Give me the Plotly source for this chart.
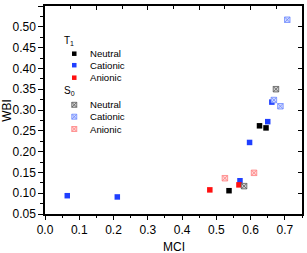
import plotly.graph_objects as go

# ---- data ----
t1_neutral_mci = [0.537, 0.626, 0.645]
t1_neutral_wbi = [0.106, 0.262, 0.257]
t1_cationic_mci = [0.065, 0.211, 0.569, 0.597, 0.650, 0.662]
t1_cationic_wbi = [0.094, 0.091, 0.130, 0.222, 0.272, 0.319]
t1_anionic_mci = [0.481, 0.566]
t1_anionic_wbi = [0.108, 0.120]
s0_neutral_mci = [0.581, 0.674]
s0_neutral_wbi = [0.117, 0.350]
s0_cationic_mci = [0.707, 0.668, 0.687]
s0_cationic_wbi = [0.517, 0.324, 0.309]
s0_anionic_mci = [0.525, 0.610]
s0_anionic_wbi = [0.136, 0.149]

legend_labels = ["Neutral", "Cationic", "Anionic"]
FONT = "Arial, Liberation Sans, sans-serif"

solid_styles = [dict(symbol="square", size=5.5, color="#000000", line=dict(width=0)),
                dict(symbol="square", size=5.5, color="#1f3fff", line=dict(width=0)),
                dict(symbol="square", size=5.5, color="#ff1010", line=dict(width=0))]
cross_styles = [dict(symbol="square-x", size=5.5, color="#d0d0d0", line=dict(width=0.8, color="#5a5a5a")),
                dict(symbol="square-x", size=5.5, color="#d0d9ff", line=dict(width=0.8, color="#6f8aff")),
                dict(symbol="square-x", size=5.5, color="#ffd6d6", line=dict(width=0.8, color="#ff8080"))]

fig = go.Figure()
series = [
    (t1_neutral_mci, t1_neutral_wbi, solid_styles[0]),
    (t1_cationic_mci, t1_cationic_wbi, solid_styles[1]),
    (t1_anionic_mci, t1_anionic_wbi, solid_styles[2]),
    (s0_neutral_mci, s0_neutral_wbi, cross_styles[0]),
    (s0_cationic_mci, s0_cationic_wbi, cross_styles[1]),
    (s0_anionic_mci, s0_anionic_wbi, cross_styles[2]),
]
for xs, ys, st in series:
    fig.add_trace(go.Scatter(x=xs, y=ys, mode="markers", marker=st, showlegend=False,
                             hoverinfo="skip"))

# helper trace so overlay axes get drawn
fig.add_trace(go.Scatter(x=[None], y=[None], xaxis="x2", yaxis="y2", showlegend=False))

# ---- manual legend (paper-like axes x3/y3) ----
W, H = 307, 253
L, R, T, B = 45, 3, 6, 39
pw, ph = W - L - R, H - T - B

def px(x):
    return (x - L) / pw

def py(y):
    return (H - B - y) / ph

marker_x = px(74.5)
text_x = px(88)
head_x = px(62.5)
row_y1 = [53.7, 65.2, 77.7]
row_y0 = [104.8, 116.7, 129.0]

for i in range(3):
    fig.add_trace(go.Scatter(x=[marker_x], y=[py(row_y1[i])], mode="markers",
                             marker=dict(solid_styles[i], size=4.5), xaxis="x3", yaxis="y3",
                             showlegend=False, hoverinfo="skip"))
    fig.add_trace(go.Scatter(x=[marker_x], y=[py(row_y0[i])], mode="markers",
                             marker=dict(cross_styles[i], size=5), xaxis="x3", yaxis="y3",
                             showlegend=False, hoverinfo="skip"))

annotations = []
for i in range(3):
    for yy in (row_y1[i], row_y0[i]):
        annotations.append(dict(x=text_x, y=py(yy), xref="paper", yref="paper",
                                text=legend_labels[i], showarrow=False, xanchor="left",
                                yanchor="middle", font=dict(family=FONT, size=9.6, color="#000")))
annotations.append(dict(x=head_x, y=py(41), xref="paper", yref="paper",
                        text="T<sub>1</sub>", showarrow=False, xanchor="left", yanchor="middle",
                        font=dict(family=FONT, size=10, color="#000")))
annotations.append(dict(x=head_x, y=py(91), xref="paper", yref="paper",
                        text="S<sub>0</sub>", showarrow=False, xanchor="left", yanchor="middle",
                        font=dict(family=FONT, size=10, color="#000")))
# axis titles
annotations.append(dict(x=px(6.5), y=0.5, xref="paper", yref="paper", text="WBI",
                        showarrow=False, textangle=-90, xanchor="center", yanchor="middle",
                        font=dict(family=FONT, size=12, color="#000")))
annotations.append(dict(x=px(174.5), y=py(246.5), xref="paper", yref="paper", text="MCI",
                        showarrow=False, xanchor="center", yanchor="middle",
                        font=dict(family=FONT, size=12, color="#000")))

axis_font = dict(family=FONT, size=12, color="#000")
fig.update_layout(
    width=W, height=H,
    margin=dict(l=L, r=R, t=T, b=B),
    paper_bgcolor="white", plot_bgcolor="white",
    font=dict(family=FONT, color="#000"),
    xaxis=dict(range=[0, 0.75], dtick=0.1, tick0=0, tickformat=".1f",
               ticks="outside", ticklen=4, tickwidth=1.3, tickcolor="#000",
               minor=dict(dtick=0.05, ticks="outside", ticklen=2, tickwidth=1.3, tickcolor="#000"),
               showline=True, linewidth=1.5, linecolor="#000", mirror=True,
               showgrid=False, zeroline=False, tickfont=axis_font),
    yaxis=dict(range=[0.05, 0.55], dtick=0.05, tick0=0.05, tickformat=".2f",
               ticks="outside", ticklen=5, tickwidth=1.3, tickcolor="#000",
               minor=dict(dtick=0.025, ticks="outside", ticklen=3, tickwidth=1.3, tickcolor="#000"),
               showline=True, linewidth=1.5, linecolor="#000", mirror=True,
               showgrid=False, zeroline=False, tickfont=axis_font),
    xaxis2=dict(overlaying="x", anchor="y", side="top", range=[0, 0.75], tick0=0, dtick=0.15,
                ticks="inside", ticklen=4, tickwidth=1.3, tickcolor="#000",
                minor=dict(dtick=0.075, ticks="inside", ticklen=2.5, tickwidth=1.3, tickcolor="#000"),
                showticklabels=False, showline=False, showgrid=False, zeroline=False),
    yaxis2=dict(overlaying="y", anchor="x", side="right", range=[0.05, 0.55], tick0=0.05, dtick=0.05,
                ticks="inside", ticklen=4, tickwidth=1.3, tickcolor="#000",
                showticklabels=False, showline=False, showgrid=False, zeroline=False),
    xaxis3=dict(overlaying="x", anchor="y3", range=[0, 1], visible=False, fixedrange=True),
    yaxis3=dict(overlaying="y", anchor="x3", range=[0, 1], visible=False, fixedrange=True),
    annotations=annotations,
)

fig.write_html("out.html", config=dict(displayModeBar=False),
               post_script="document.body.style.margin='0';document.body.style.padding='0';")
